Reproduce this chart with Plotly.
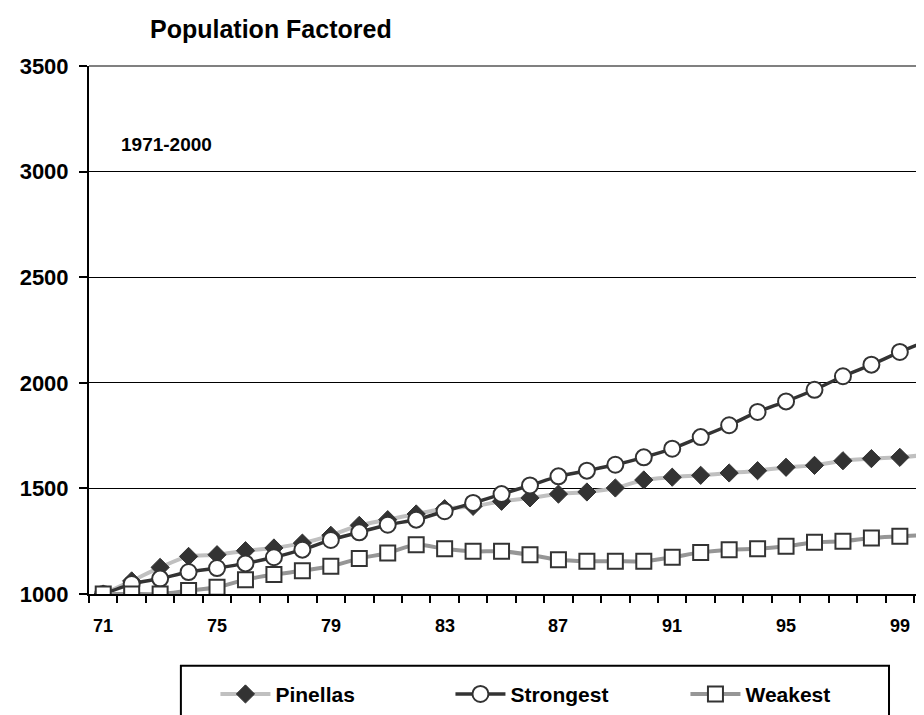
import plotly.graph_objects as go

years = list(range(71, 101))
pinellas = [1000, 1062, 1126, 1178, 1186, 1205, 1218, 1241, 1278, 1325,
            1352, 1379, 1404, 1415, 1439, 1455, 1473, 1483, 1502, 1540,
            1553, 1562, 1573, 1584, 1600, 1609, 1631, 1641, 1647, 1660]
strongest = [1000, 1047, 1073, 1104, 1123, 1145, 1174, 1210, 1256, 1292,
             1328, 1352, 1392, 1431, 1473, 1514, 1557, 1584, 1612, 1647,
             1688, 1743, 1799, 1862, 1912, 1967, 2031, 2086, 2146, 2201]
weakest = [1000, 1000, 1000, 1016, 1032, 1068, 1092, 1110, 1131, 1168,
           1194, 1233, 1214, 1202, 1202, 1186, 1162, 1155, 1155, 1155,
           1174, 1197, 1210, 1214, 1226, 1245, 1250, 1265, 1273, 1281]
x_labels = years[::4]
y_ticks = [1000, 1500, 2000, 2500, 3000, 3500]

FONT = 'Liberation Sans, Arial, sans-serif'
DARK = '#333333'

traces = [
    go.Scatter(x=years, y=pinellas, name='Pinellas', mode='lines+markers',
               line={'color': '#c0c0c0', 'width': 4, 'shape': 'spline', 'smoothing': 0.8},
               marker={'symbol': 'diamond', 'size': 14, 'color': DARK,
                       'line': {'color': DARK, 'width': 1}}),
    go.Scatter(x=years, y=strongest, name='Strongest', mode='lines+markers',
               line={'color': DARK, 'width': 3.5, 'shape': 'spline', 'smoothing': 0.8},
               marker={'symbol': 'circle', 'size': 16, 'color': 'white',
                       'line': {'color': DARK, 'width': 2}}),
    go.Scatter(x=years, y=weakest, name='Weakest', mode='lines+markers',
               line={'color': '#969696', 'width': 4, 'shape': 'spline', 'smoothing': 0.8},
               marker={'symbol': 'square', 'size': 15, 'color': 'white',
                       'line': {'color': DARK, 'width': 2}}),
]

fig = go.Figure(data=traces)

# year labels every fourth year; the axis itself carries the between-year ticks
year_labels = [{'text': '<b>{}</b>'.format(v), 'xref': 'x', 'yref': 'paper',
                'x': v, 'y': -0.06, 'xanchor': 'center', 'yanchor': 'middle',
                'showarrow': False, 'font': {'size': 18}}
               for v in x_labels]

fig.update_layout(
    width=924, height=715,
    margin={'l': 81, 'r': 0, 't': 58, 'b': 129},
    paper_bgcolor='white', plot_bgcolor='white',
    font={'family': FONT, 'color': 'black'},
    title={'text': '<b>Population Factored</b>', 'font': {'size': 25},
           'xref': 'container', 'yref': 'container',
           'x': 142 / 924, 'xanchor': 'left', 'y': 1 - 21 / 715, 'yanchor': 'middle'},
    legend={'orientation': 'h', 'x': 0.15, 'xanchor': 'left',
            'y': -0.19, 'yanchor': 'middle',
            'font': {'size': 21, 'family': FONT, 'weight': 'bold'},
            'itemwidth': 50, 'entrywidth': 170,
            'bgcolor': 'rgba(0,0,0,0)', 'borderwidth': 0},
    annotations=[{'text': '<b>1971-2000</b>', 'xref': 'paper', 'yref': 'paper',
                  'x': 0.036, 'y': 0.852, 'xanchor': 'left', 'yanchor': 'middle',
                  'showarrow': False, 'font': {'size': 19}}] + year_labels,
    shapes=[
        # legend frame, cut off at the bottom like the original
        {'type': 'rect', 'xref': 'paper', 'yref': 'paper',
         'x0': 0.109, 'x1': 0.949, 'y0': -0.27, 'y1': -0.136,
         'line': {'color': 'black', 'width': 2}},
        # top gridline is grey in the original
        {'type': 'line', 'xref': 'paper', 'yref': 'paper',
         'x0': 0, 'x1': 1, 'y0': 1, 'y1': 1,
         'line': {'color': '#808080', 'width': 2}},
    ],
    xaxis={
        'range': [70.5, 100.13],
        'tickmode': 'array', 'tickvals': [v - 0.5 for v in years],
        'ticks': 'outside', 'ticklen': 7, 'tickcolor': 'black', 'tickwidth': 2,
        'showticklabels': False,
        'showgrid': False, 'zeroline': False,
        'showline': True, 'linecolor': 'black', 'linewidth': 2,
    },
    yaxis={
        'range': [1000, 3500],
        'tickmode': 'array', 'tickvals': y_ticks,
        'ticks': 'outside', 'ticklen': 8, 'tickcolor': 'black', 'tickwidth': 2,
        'ticklabelstandoff': 6,
        'tickfont': {'size': 22, 'family': FONT, 'weight': 'bold'},
        'showgrid': True, 'gridcolor': 'black', 'gridwidth': 1,
        'zeroline': False,
        'showline': True, 'linecolor': 'black', 'linewidth': 2,
    },
)

fig.write_html("out.html")
